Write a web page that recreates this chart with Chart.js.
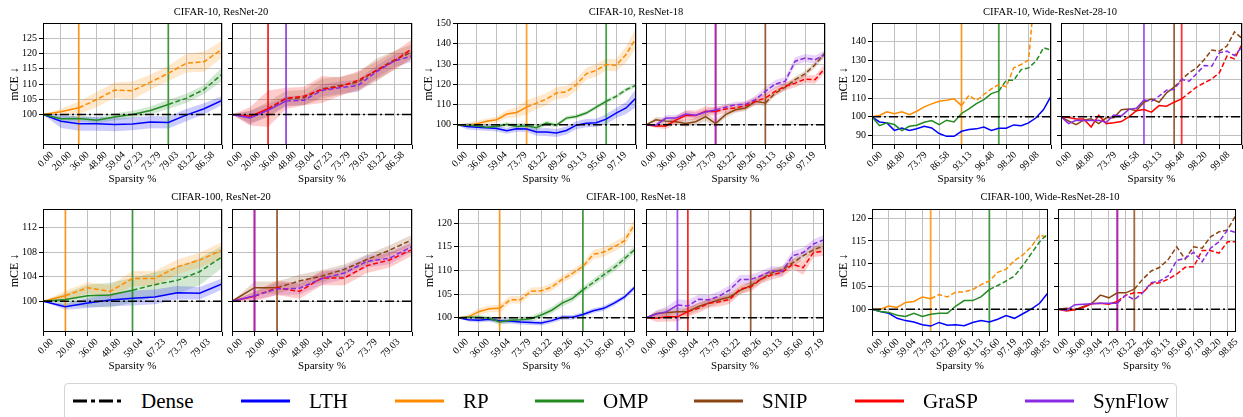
<!DOCTYPE html>
<html>
<head>
<meta charset="utf-8">
<script src="https://cdn.jsdelivr.net/npm/chart.js@4.4.0/dist/chart.umd.min.js"></script>
<style>
  body { margin: 0; background: #fff; width: 1243px; height: 417px; overflow: hidden; position: relative; font-family: "Liberation Serif", serif; }
  canvas { position: absolute; }
  .title { position: absolute; font-size: 10.5px; line-height: 12px; transform: translateX(-50%); white-space: nowrap; color: #000; }
  #legend { position: absolute; left: 64px; top: 383px; width: 1113px; height: 44px; border: 1px solid #d4d4d4; border-radius: 4px; box-sizing: border-box; }
  .lg-text { position: absolute; top: 389px; font-size: 21px; line-height: 24px; color: #000; white-space: nowrap; }
  .lg-line { position: absolute; top: 398px; }
</style>
</head>
<body>
<div id="legend"></div>
<script>
// x tick labels (sparsity %)
const sparsity = ['0.00', '20.00', '36.00', '48.80', '59.04', '67.23', '73.79', '79.03', '83.22', '86.58',
  '89.26', '91.41', '93.13', '94.50', '95.60', '96.48', '97.19', '97.75', '98.20', '98.56',
  '98.85', '99.08', '99.26', '99.41', '99.53'];

// CIFAR-10, ResNet-20
const c10r20_LTH = [100, 97.8, 97.0, 97.0, 96.7, 96.9, 97.5, 97.4, 99.8, 101.9, 104.6];
const c10r20_LTH_sd = [0, 2.2, 2.3, 2.3, 2.2, 2.1, 2.0, 2.0, 2.0, 1.8, 1.5];
const c10r20_RP = [100, 100.9, 102.2, 104.9, 108.0, 107.8, 110.6, 113.5, 116.8, 117.3, 121.4];
const c10r20_RP_sd = [0, 1, 2, 2.5, 2.5, 3, 2.5, 2.5, 3, 3.3, 2.7];
const c10r20_OMP = [100, 98.6, 98.7, 98.1, 99.2, 100.0, 101.3, 103.3, 105.3, 108.2, 113.2];
const c10r20_OMP_sd = [0, 1, 1, 1, 1.2, 1.2, 1.3, 1.5, 1.5, 1.5, 2.2];
const c10r20_SNIP = [100, 99.2, 101.6, 105.2, 105.5, 108.4, 109.5, 110.6, 114.5, 117.8, 120.5];
const c10r20_SNIP_sd = [0, 2, 2.5, 2.5, 2.5, 3.3, 3, 3, 3.8, 3, 2.5];
const c10r20_GraSP = [100, 99.4, 101.9, 105.3, 106.0, 108.2, 109.1, 111.2, 114.3, 117.5, 121.6];
const c10r20_GraSP_sd = [0, 3, 6, 3.5, 3, 4.4, 3, 3, 3, 3, 3];
const c10r20_SynFlow = [100, 98.9, 101.4, 104.4, 104.7, 107.9, 108.8, 109.5, 113.9, 117.5, 119.2];
const c10r20_SynFlow_sd = [0, 2.3, 2, 1.6, 1.6, 2, 2, 2, 2, 2, 2];

// CIFAR-10, ResNet-18
const c10r18_LTH = [100, 99.2, 98.8, 98.5, 98.2, 97.0, 98.0, 97.9, 96.4, 96.4, 95.9, 97.2, 99.8, 100.8, 101.0, 102.8, 105.8, 108.3, 113.2];
const c10r18_LTH_sd = [0, 1.5, 1.5, 1.5, 1.5, 1.5, 1.5, 1.5, 1.8, 2, 2, 2, 2, 2, 2, 2.5, 2.5, 3, 4.5];
const c10r18_RP = [100, 99.8, 100.5, 101.7, 102.5, 105.3, 106.1, 108.7, 110.7, 112.7, 115.7, 116.2, 119.8, 125.2, 126.9, 129.7, 129.4, 134.7, 142.9];
const c10r18_RP_sd = [0, 1, 1.5, 1.5, 1.5, 2, 2.5, 3.5, 3, 3, 3, 3, 3, 3, 3, 3, 3, 4, 5];
const c10r18_OMP = [100, 99.8, 99.5, 98.8, 99.2, 100.2, 99.2, 99.5, 98.5, 100.8, 99.8, 103.3, 104.1, 105.8, 108.7, 111.6, 114.0, 117.3, 119.6];
const c10r18_OMP_sd = [0, 0.8, 1, 1, 1, 1, 1.5, 1.5, 1.5, 1.2, 1, 1, 1, 1, 1, 1, 1, 1, 1];
const c10r18_SNIP = [100, 102.5, 101.8, 101.5, 100.6, 101.5, 104.0, 100.6, 105.0, 107.4, 108.3, 111.6, 110.7, 115.7, 118.6, 122.3, 125.2, 129.7, 135.5];
const c10r18_SNIP_sd = [0, 1.5, 1.5, 1.5, 1.5, 2, 2, 2, 1.5, 1.5, 1.5, 1.5, 1.5, 1.5, 1.5, 1.5, 1.5, 1.5, 1.5];
const c10r18_GraSP = [100, 99.4, 99.4, 102.3, 104.7, 104.6, 106.7, 106.6, 107.8, 108.3, 109.4, 111.6, 113.2, 116.5, 119.0, 120.6, 122.6, 122.3, 128.0];
const c10r18_GraSP_sd = [0, 1, 1.5, 2, 2.5, 2.5, 2.5, 2, 2, 2, 2, 2, 2, 2, 2, 2, 2, 2, 2];
const c10r18_SynFlow = [100, 99.8, 103.3, 103.3, 105.3, 104.7, 106.3, 107.3, 108.7, 109.9, 110.1, 112.4, 116.5, 120.1, 121.5, 131.4, 133.0, 132.2, 134.7];
const c10r18_SynFlow_sd = [0, 1, 1.5, 1.5, 1.5, 1.5, 1.5, 1.5, 1.5, 1.5, 1.5, 2, 2, 2, 2, 2, 2, 2, 2];

// CIFAR-10, Wide-ResNet-28-10
const c10wrn_LTH = [100, 97.3, 96.8, 92.8, 94.1, 92.7, 93.7, 95.0, 94.1, 91.1, 89.6, 89.6, 92.3, 93.2, 93.6, 94.6, 92.7, 93.9, 93.9, 95.7, 95.3, 96.8, 99.5, 103.9, 111.0];
const c10wrn_RP = [100, 100.7, 102.7, 101.7, 102.7, 101.2, 103.0, 105.3, 106.9, 108.3, 108.9, 109.6, 106.0, 111.5, 108.7, 111.9, 114.9, 117.2, 116.0, 126.1, 127.9, 130.2, 175, 185, 190];
const c10wrn_OMP = [100, 95.3, 96.8, 95.9, 92.7, 95.0, 95.5, 97.1, 98.0, 95.9, 98.2, 97.3, 101.8, 104.2, 107.1, 109.2, 112.4, 113.7, 119.5, 119.5, 125.2, 126.1, 129.7, 136.8, 135.6];
const c10wrn_SNIP = [100, 97.8, 95.8, 98.2, 99.0, 96.4, 99.5, 99.5, 103.8, 104.2, 103.3, 107.8, 109.6, 107.8, 112.8, 115.8, 119.9, 123.5, 126.1, 130.6, 135.6, 135.0, 137.7, 145.3, 141.8];
const c10wrn_GraSP = [100, 99.6, 98.8, 98.8, 94.6, 100.9, 96.4, 96.8, 97.5, 100.0, 103.3, 103.9, 102.5, 106.0, 105.7, 107.8, 109.6, 112.8, 116.0, 118.1, 120.2, 123.5, 132.3, 130.9, 138.6];
const c10wrn_SynFlow = [100, 96.4, 98.2, 98.0, 98.0, 98.2, 97.0, 101.0, 100.5, 104.0, 104.6, 109.0, 108.3, 111.0, 114.2, 114.6, 119.9, 119.0, 123.1, 127.4, 127.0, 134.1, 135.0, 132.7, 137.2];

// CIFAR-100, ResNet-20
const c100r20_LTH = [100, 99.1, 99.7, 100.2, 100.5, 100.7, 101.4, 101.3, 102.8];
const c100r20_LTH_sd = [0, 0.5, 0.8, 1, 1.2, 1.2, 1.1, 1, 0.9];
const c100r20_RP = [100, 100.9, 102.2, 101.6, 103.7, 103.7, 105.6, 106.7, 108.3];
const c100r20_RP_sd = [0, 0.8, 0.9, 1, 1.2, 1.2, 1.2, 1.2, 1.3];
const c100r20_OMP = [100, 100.3, 100.9, 101.0, 101.8, 102.7, 103.4, 104.8, 107.2];
const c100r20_OMP_sd = [0, 1, 1.8, 2, 2, 2, 2.2, 2.2, 1.8];
const c100r20_SNIP = [100, 102.2, 102.2, 103.3, 104.1, 105.2, 106.8, 108.3, 110.0];
const c100r20_SNIP_sd = [0, 1, 1, 1, 1, 0.8, 0.8, 0.8, 0.8];
const c100r20_GraSP = [100, 100.8, 102.2, 101.6, 103.8, 103.8, 105.8, 106.7, 108.4];
const c100r20_GraSP_sd = [0, 0.8, 1.2, 1.2, 1.2, 1.2, 1.2, 1.2, 1];
const c100r20_SynFlow = [100, 100.9, 102.0, 102.1, 103.7, 104.6, 106.5, 107.0, 108.9];
const c100r20_SynFlow_sd = [0, 0.6, 1, 1, 1, 1, 1, 1, 0.8];

// CIFAR-100, ResNet-18
const c100r18_LTH = [100, 99.6, 99.5, 99.7, 99.4, 99.3, 99.1, 99.0, 98.9, 99.4, 100.1, 100.1, 100.7, 101.5, 102.0, 103.1, 104.4, 106.5];
const c100r18_LTH_sd = [0, 0.4, 0.5, 0.5, 0.5, 0.5, 0.5, 0.5, 0.5, 0.5, 0.5, 0.5, 0.5, 0.5, 0.5, 0.5, 0.5, 0.6];
const c100r18_RP = [100, 100.2, 101.3, 101.9, 102.0, 103.8, 103.8, 105.6, 105.7, 106.5, 108.1, 109.4, 110.9, 113.4, 113.9, 115.0, 116.3, 119.9];
const c100r18_RP_sd = [0, 0.5, 0.7, 0.7, 0.8, 0.8, 0.8, 0.8, 0.8, 0.8, 0.8, 0.8, 0.8, 1, 1, 1, 1, 1.2];
const c100r18_OMP = [100, 100.1, 100.1, 99.9, 99.1, 99.5, 99.6, 99.8, 100.6, 101.6, 103.1, 104.1, 105.9, 107.5, 109.1, 110.6, 112.5, 114.5];
const c100r18_OMP_sd = [0, 0.4, 0.5, 0.5, 0.6, 0.6, 0.6, 0.6, 0.7, 0.7, 0.7, 0.7, 0.7, 0.7, 0.8, 0.8, 0.8, 0.8];
const c100r18_SNIP = [100, 100.9, 101.1, 101.3, 101.3, 102.4, 103.1, 103.8, 104.4, 105.8, 106.8, 108.2, 109.5, 110.2, 111.6, 113.1, 114.4, 115.2];
const c100r18_SNIP_sd = [0, 0.6, 0.8, 0.8, 0.8, 0.8, 0.8, 0.8, 0.8, 0.8, 0.8, 0.8, 0.8, 0.8, 0.8, 0.8, 0.8, 0.8];
const c100r18_GraSP = [100, 99.9, 100.2, 100.2, 101.3, 102.0, 103.1, 103.4, 103.9, 106.1, 106.5, 108.2, 109.1, 109.6, 111.3, 110.6, 113.8, 114.1];
const c100r18_GraSP_sd = [0, 0.8, 1, 1, 1, 1, 1, 1, 1, 1, 1, 1, 1, 1, 1, 1.5, 1, 1];
const c100r18_SynFlow = [100, 100.8, 101.3, 102.7, 102.5, 103.9, 103.8, 104.6, 105.9, 108.1, 108.1, 108.9, 109.9, 109.8, 113.1, 113.8, 115.6, 116.5];
const c100r18_SynFlow_sd = [0, 0.8, 1.1, 1.2, 1.2, 1, 1, 1, 1, 1, 1, 1, 1, 1, 1, 1, 1, 1];

// CIFAR-100, Wide-ResNet-28-10
const c100wrn_LTH = [100, 99.5, 99.1, 98.0, 97.5, 97.2, 96.6, 96.3, 97.1, 96.5, 96.6, 96.4, 97.1, 97.5, 97.2, 97.8, 98.6, 98.0, 99.0, 100.0, 101.3, 103.6];
const c100wrn_RP = [100, 100.0, 100.7, 100.4, 101.5, 101.7, 102.7, 102.3, 103.2, 102.7, 103.8, 103.8, 104.3, 105.4, 106.2, 108.1, 108.8, 110.7, 111.9, 113.7, 116.3, 115.7];
const c100wrn_OMP = [100, 99.5, 99.3, 98.7, 98.4, 99.1, 98.4, 98.9, 99.1, 99.1, 100.7, 101.9, 101.9, 102.7, 104.3, 105.2, 106.2, 107.3, 109.6, 112.2, 114.8, 116.6];
const c100wrn_SNIP = [100, 100.2, 99.9, 100.6, 101.3, 103.1, 102.5, 103.6, 103.6, 104.4, 106.6, 108.4, 109.2, 110.9, 113.7, 111.0, 113.7, 113.4, 115.9, 117.0, 117.4, 120.7];
const c100wrn_GraSP = [100, 99.6, 99.9, 100.4, 101.2, 101.3, 101.1, 101.7, 103.1, 103.6, 103.6, 105.6, 105.8, 106.6, 107.7, 109.2, 109.3, 112.9, 112.9, 112.3, 114.8, 114.8];
const c100wrn_SynFlow = [100, 99.8, 101.0, 101.1, 101.2, 101.3, 101.3, 101.3, 103.1, 102.1, 103.6, 105.8, 106.2, 107.3, 110.7, 111.2, 112.5, 110.4, 113.4, 114.8, 117.4, 116.8];

// index where each method's vertical marker sits (solid before, dashed after)
const c10r20_cut = { LTH: 10, RP: 2, OMP: 7, SNIP: 0, GraSP: 2, SynFlow: 3 };
const c10r18_cut = { LTH: 18, RP: 7, OMP: 15, SNIP: 12, GraSP: 7, SynFlow: 7 };
const c10wrn_cut = { LTH: 24, RP: 12, OMP: 17, SNIP: 15, GraSP: 16, SynFlow: 11 };
const c100r20_cut = { LTH: 8, RP: 1, OMP: 4, SNIP: 2, GraSP: 1, SynFlow: 1 };
const c100r18_cut = { LTH: 17, RP: 4, OMP: 12, SNIP: 10, GraSP: 4, SynFlow: 3 };
const c100wrn_cut = { LTH: 21, RP: 7, OMP: 14, SNIP: 9, GraSP: 7, SynFlow: 7 };

const methods = ['Dense', 'LTH', 'RP', 'OMP', 'SNIP', 'GraSP', 'SynFlow'];
const colors = { LTH: '#0000ff', RP: '#ff8c00', OMP: '#228b22', SNIP: '#8b4513', GraSP: '#ff0000', SynFlow: '#8a2be2' };
const FONT = 'Liberation Serif';

function rgba(hex, a) {
  const n = parseInt(hex.slice(1), 16);
  return `rgba(${n >> 16},${(n >> 8) & 255},${n & 255},${a})`;
}
function pts(arr) { return arr.map((y, x) => ({ x: x, y: y })); }

// draw the full box around the axes
const frame = {
  id: 'frame',
  afterDatasetsDraw(chart) {
    const a = chart.chartArea, ctx = chart.ctx;
    ctx.save();
    ctx.strokeStyle = '#000';
    ctx.lineWidth = 1;
    ctx.strokeRect(Math.round(a.left) + 0.5, Math.round(a.top) + 0.5, Math.round(a.right - a.left) - 1, Math.round(a.bottom - a.top) - 1);
    ctx.restore();
  }
};

function makePanel(box, n, step, yMin, yMax, yTicks, series, cuts, showY) {
  const cv = document.createElement('canvas');
  cv.width = box.w + 60;
  cv.height = box.h + 55;
  document.body.appendChild(cv);

  const datasets = [];
  // shaded bands
  series.forEach(s => {
    if (!s.sd) return;
    const c = colors[s.name];
    datasets.push({ data: pts(s.values.map((v, i) => v - s.sd[i])), borderWidth: 0, borderColor: 'transparent', pointRadius: 0, fill: false, order: 5 });
    datasets.push({ data: pts(s.values.map((v, i) => v + s.sd[i])), borderWidth: 0, borderColor: 'transparent', pointRadius: 0, fill: '-1', backgroundColor: rgba(c, 0.2), order: 5 });
  });
  // vertical markers (later methods drawn on top)
  series.forEach((s, j) => {
    const x = cuts[s.name];
    datasets.push({ data: [{ x: x, y: yMin }, { x: x, y: yMax }], borderColor: rgba(colors[s.name], 0.8), borderWidth: 1.8, pointRadius: 0, fill: false, order: 3.5 - j * 0.1 });
  });
  // method curves
  series.forEach((s, j) => {
    const cut = cuts[s.name];
    datasets.push({
      data: pts(s.values), borderColor: colors[s.name], borderWidth: 1.5, pointRadius: 0, fill: false, order: 2.5 - j * 0.1,
      segment: { borderDash: ctx => ctx.p0DataIndex >= cut ? [5, 2.5] : undefined }
    });
  });
  // dense baseline
  datasets.push({ data: [{ x: 0, y: 100 }, { x: n - 1, y: 100 }], borderColor: '#000', borderWidth: 1.5, borderDash: [9, 3, 2, 3], pointRadius: 0, fill: false, order: 1 });

  const chart = new Chart(cv, {
    type: 'line',
    data: { datasets: datasets },
    options: {
      responsive: false,
      maintainAspectRatio: false,
      animation: false,
      events: [],
      layout: { padding: { top: 8, right: 14, left: 0, bottom: 0 } },
      plugins: { legend: { display: false }, tooltip: { enabled: false } },
      elements: { line: { tension: 0 } },
      scales: {
        x: {
          type: 'linear', min: 0, max: n - 1,
          afterBuildTicks: sc => { const t = []; for (let i = 0; i < n; i += step) t.push({ value: i }); sc.ticks = t; },
          afterFit: sc => { sc.height = 43; },
          ticks: {
            autoSkip: false, minRotation: 45, maxRotation: 45, labelOffset: 9, padding: 0,
            color: '#000', font: { family: FONT, size: 10 },
            callback: v => (v < n - 1 ? sparsity[v] : '')
          },
          grid: { color: '#c0c0c0', lineWidth: 1, tickLength: 4, tickColor: '#000' },
          border: { display: false },
          title: { display: true, text: 'Sparsity %', color: '#000', font: { family: FONT, size: 11 }, padding: { top: 0, bottom: 2 } }
        },
        y: {
          min: yMin, max: yMax,
          afterBuildTicks: sc => { sc.ticks = yTicks.map(v => ({ value: v })); },
          afterFit: sc => { sc.width = 44; },
          ticks: { color: '#000', font: { family: FONT, size: 10 }, padding: 2, callback: v => (showY ? String(v) : '') },
          grid: { color: '#c0c0c0', lineWidth: 1, tickLength: 4, tickColor: '#000' },
          border: { display: false },
          title: { display: showY, text: 'mCE ↓', color: '#000', font: { family: FONT, size: 12 }, padding: { top: 9, bottom: 0 } }
        }
      }
    },
    plugins: [frame]
  });

  let a = chart.chartArea;
  const w = box.w + a.left + (cv.width - a.right);
  const h = box.h + a.top + (cv.height - a.bottom);
  if (Math.abs(w - cv.width) > 0.5 || Math.abs(h - cv.height) > 0.5) {
    chart.resize(w, h);
    a = chart.chartArea;
  }
  cv.style.left = (box.x - a.left) + 'px';
  cv.style.top = (box.y - a.top) + 'px';
  return chart;
}

function addTitle(text, cx, top) {
  const d = document.createElement('div');
  d.className = 'title';
  d.textContent = text;
  d.style.left = cx + 'px';
  d.style.top = top + 'px';
  document.body.appendChild(d);
}

function sets(prefix, names, withSd) {
  return names.map(nm => ({
    name: nm,
    values: eval(prefix + '_' + nm),
    sd: withSd ? eval(prefix + '_' + nm + '_sd') : null
  }));
}

const left = ['LTH', 'RP', 'OMP'];
const right = ['SNIP', 'GraSP', 'SynFlow'];

// top row
makePanel({ x: 43, y: 23, w: 179, h: 122 }, 11, 1, 90, 130, [100, 105, 110, 115, 120, 125], sets('c10r20', left, true), c10r20_cut, true);
makePanel({ x: 232, y: 23, w: 180, h: 122 }, 11, 1, 90, 130, [100, 105, 110, 115, 120, 125], sets('c10r20', right, true), c10r20_cut, false);
makePanel({ x: 457, y: 23, w: 179, h: 122 }, 19, 2, 90, 150.3, [100, 110, 120, 130, 140, 150], sets('c10r18', left, true), c10r18_cut, true);
makePanel({ x: 646, y: 23, w: 179, h: 122 }, 19, 2, 90, 150.3, [100, 110, 120, 130, 140, 150], sets('c10r18', right, true), c10r18_cut, false);
makePanel({ x: 872, y: 23, w: 179, h: 122 }, 25, 3, 85, 150, [90, 100, 110, 120, 130, 140], sets('c10wrn', left, false), c10wrn_cut, true);
makePanel({ x: 1061, y: 23, w: 181, h: 122 }, 25, 3, 85, 150, [90, 100, 110, 120, 130, 140], sets('c10wrn', right, false), c10wrn_cut, false);

// bottom row
makePanel({ x: 43, y: 209, w: 179, h: 123 }, 9, 1, 95, 115, [100, 104, 108, 112], sets('c100r20', left, true), c100r20_cut, true);
makePanel({ x: 232, y: 209, w: 180, h: 123 }, 9, 1, 95, 115, [100, 104, 108, 112], sets('c100r20', right, true), c100r20_cut, false);
makePanel({ x: 458, y: 209, w: 177, h: 123 }, 18, 2, 97, 123, [100, 105, 110, 115, 120], sets('c100r18', left, true), c100r18_cut, true);
makePanel({ x: 646, y: 209, w: 178, h: 123 }, 18, 2, 97, 123, [100, 105, 110, 115, 120], sets('c100r18', right, true), c100r18_cut, false);
makePanel({ x: 872, y: 209, w: 176, h: 123 }, 22, 2, 95, 122, [100, 105, 110, 115, 120], sets('c100wrn', left, false), c100wrn_cut, true);
makePanel({ x: 1058, y: 209, w: 178, h: 123 }, 22, 2, 95, 122, [100, 105, 110, 115, 120], sets('c100wrn', right, false), c100wrn_cut, false);

addTitle('CIFAR-10, ResNet-20', 221, 6);
addTitle('CIFAR-10, ResNet-18', 636, 6);
addTitle('CIFAR-10, Wide-ResNet-28-10', 1050, 6);
addTitle('CIFAR-100, ResNet-20', 221, 191);
addTitle('CIFAR-100, ResNet-18', 636, 191);
addTitle('CIFAR-100, Wide-ResNet-28-10', 1050, 191);

// legend
const legendX = [73, 241, 395, 535, 694, 855, 1025];
methods.forEach((m, i) => {
  const x0 = legendX[i];
  const svg = document.createElementNS('http://www.w3.org/2000/svg', 'svg');
  svg.setAttribute('class', 'lg-line');
  svg.setAttribute('width', '50');
  svg.setAttribute('height', '6');
  svg.style.left = x0 + 'px';
  const ln = document.createElementNS('http://www.w3.org/2000/svg', 'line');
  ln.setAttribute('x1', '0'); ln.setAttribute('y1', '3'); ln.setAttribute('x2', '49'); ln.setAttribute('y2', '3');
  ln.setAttribute('stroke', m === 'Dense' ? '#000' : colors[m]);
  ln.setAttribute('stroke-width', '3');
  if (m === 'Dense') ln.setAttribute('stroke-dasharray', '14 4 4 4');
  svg.appendChild(ln);
  document.body.appendChild(svg);
  const t = document.createElement('div');
  t.className = 'lg-text';
  t.textContent = m;
  t.style.left = (x0 + 68) + 'px';
  document.body.appendChild(t);
});
</script>
</body>
</html>
